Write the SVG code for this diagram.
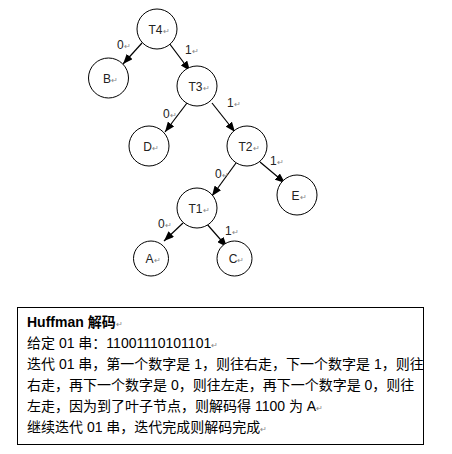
<svg xmlns="http://www.w3.org/2000/svg" width="452" height="454" viewBox="0 0 452 454">
<defs>
<marker id="arr" markerUnits="userSpaceOnUse" markerWidth="10" markerHeight="8" refX="10" refY="4" orient="auto">
<path d="M0,0 L10,4 L0,8 z" fill="#000"/>
</marker>
<style>
.node circle{fill:#fff;stroke:#000;stroke-width:1}
.node text{font-family:"Liberation Sans",Arial,sans-serif;font-size:12px;fill:#222;text-anchor:middle}
.edges line{stroke:#000;stroke-width:1.2;marker-end:url(#arr)}
.lbl{font-family:"Liberation Sans",Arial,sans-serif;font-size:12px;fill:#222}
.rm{font-size:8px;fill:#888}
.body{font-family:"Liberation Sans","Noto Sans CJK SC",sans-serif;font-size:14px;fill:#000}
</style>
</defs>
<rect width="452" height="454" fill="#fff"/>
<g id="connectors" class="edges">
<line x1="142" y1="43" x2="123" y2="64"/>
<line x1="169" y1="43" x2="190" y2="71"/>
<line x1="187" y1="103" x2="165" y2="132"/>
<line x1="212" y1="103" x2="235" y2="132"/>
<line x1="236" y1="163" x2="212" y2="196"/>
<line x1="260" y1="162" x2="285" y2="183"/>
<line x1="183" y1="223" x2="164" y2="241"/>
<line x1="206" y1="223" x2="227" y2="247"/>
</g>
<g id="edge-labels" class="lbl">
<text x="117" y="49">0<tspan class="rm">↵</tspan></text>
<text x="185" y="54">1<tspan class="rm">↵</tspan></text>
<text x="163" y="118">0<tspan class="rm">↵</tspan></text>
<text x="227" y="107">1<tspan class="rm">↵</tspan></text>
<text x="215" y="178">0<tspan class="rm">↵</tspan></text>
<text x="270" y="165">1<tspan class="rm">↵</tspan></text>
<text x="158" y="228">0<tspan class="rm">↵</tspan></text>
<text x="225" y="235">1<tspan class="rm">↵</tspan></text>
</g>
<g id="T4" class="node"><circle cx="157" cy="29" r="20"/><text x="159" y="33.5">T4<tspan class="rm">↵</tspan></text></g>
<g id="B" class="node"><circle cx="108.5" cy="78" r="20"/><text x="110.5" y="82.5">B<tspan class="rm">↵</tspan></text></g>
<g id="T3" class="node"><circle cx="197" cy="86" r="20"/><text x="199" y="90.5">T3<tspan class="rm">↵</tspan></text></g>
<g id="D" class="node"><circle cx="149" cy="146" r="20"/><text x="151" y="150.5">D<tspan class="rm">↵</tspan></text></g>
<g id="T2" class="node"><circle cx="247" cy="146" r="20"/><text x="249" y="150.5">T2<tspan class="rm">↵</tspan></text></g>
<g id="E" class="node"><circle cx="297" cy="195" r="20"/><text x="299" y="199.5">E<tspan class="rm">↵</tspan></text></g>
<g id="T1" class="node"><circle cx="197" cy="208" r="20"/><text x="199" y="212.5">T1<tspan class="rm">↵</tspan></text></g>
<g id="A" class="node"><circle cx="151" cy="258.5" r="17.5"/><text x="153" y="263">A<tspan class="rm">↵</tspan></text></g>
<g id="C" class="node"><circle cx="234.5" cy="258.5" r="17.5"/><text x="236.5" y="263">C<tspan class="rm">↵</tspan></text></g>
<g id="textbox">
<rect x="17.5" y="307.5" width="406" height="137" fill="#fff" stroke="#000" stroke-width="1"/>
<text class="body" x="27" y="327" font-weight="bold">Huffman 解码<tspan class="rm" font-weight="normal">↵</tspan></text>
<text class="body" x="27" y="348">给定 01 串：11001110101101<tspan class="rm">↵</tspan></text>
<text class="body" x="27" y="369">迭代 01 串，第一个数字是 1，则往右走，下一个数字是 1，则往</text>
<text class="body" x="27" y="390">右走，再下一个数字是 0，则往左走，再下一个数字是 0，则往</text>
<text class="body" x="27" y="411">左走，因为到了叶子节点，则解码得 1100 为 A<tspan class="rm">↵</tspan></text>
<text class="body" x="27" y="432">继续迭代 01 串，迭代完成则解码完成<tspan class="rm">↵</tspan></text>
</g>
</svg>
